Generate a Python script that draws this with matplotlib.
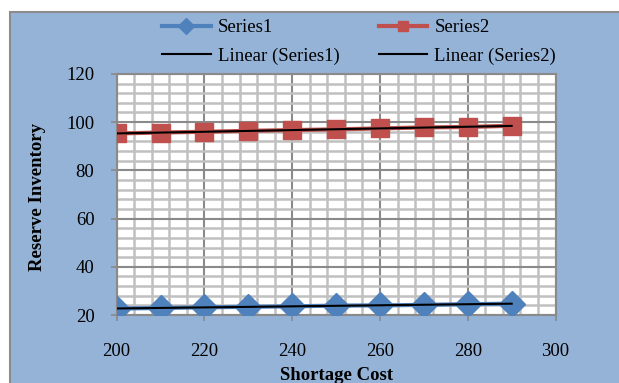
import matplotlib
matplotlib.use("Agg")
import matplotlib.pyplot as plt
import numpy as np
from matplotlib.patches import Rectangle
from matplotlib.ticker import MultipleLocator

plt.rcParams['font.family'] = ['Liberation Serif', 'DejaVu Serif']

shortage_cost = [200, 210, 220, 230, 240, 250, 260, 270, 280, 290]
series1 = [22.7, 22.9, 23.2, 23.4, 23.6, 23.9, 24.0, 24.2, 24.5, 24.7]
series2 = [95.3, 95.7, 96.0, 96.4, 96.7, 97.0, 97.4, 97.8, 98.0, 98.5]

bg = '#95B3D7'
blue = '#4F81BD'
red = '#C0504D'

fig = plt.figure(figsize=(6.19, 3.83), dpi=100)
fig.patches.append(Rectangle((10 / 619, -0.1), 1.2, 0.1 + 1 - 12 / 383,
                             transform=fig.transFigure, facecolor=bg,
                             edgecolor='#8c8c8c', lw=1.5, zorder=-1))

ax = fig.add_axes([0.1885, 0.1775, 0.709, 0.6295])
ax.set_facecolor('white')

x = np.array(shortage_cost)
s1, = ax.plot(x, series1, color=blue, lw=3, marker='D', markersize=13,
              label='Series1', zorder=3)
s2, = ax.plot(x, series2, color=red, lw=3, marker='s', markersize=13,
              label='Series2', zorder=3)

# linear trend lines
p1 = np.polyfit(x, series1, 1)
p2 = np.polyfit(x, series2, 1)
l1, = ax.plot(x, np.polyval(p1, x), color='black', lw=1.5,
              label='Linear (Series1)', zorder=4)
l2, = ax.plot(x, np.polyval(p2, x), color='black', lw=1.5,
              label='Linear (Series2)', zorder=4)

ax.set_xlim(200, 300)
ax.set_ylim(20, 120)
ax.xaxis.set_major_locator(MultipleLocator(20))
ax.xaxis.set_minor_locator(MultipleLocator(4))
ax.yaxis.set_major_locator(MultipleLocator(20))
ax.yaxis.set_minor_locator(MultipleLocator(4))
ax.grid(which='minor', color='#c0c0c0', lw=1.8, zorder=0)
ax.grid(which='major', color='#8a8a8a', lw=1.5, zorder=0)
ax.set_axisbelow(True)
ax.tick_params(which='minor', length=0)
ax.tick_params(which='major', length=4, color='#8a8a8a', width=1.2,
               labelsize=13.5)
ax.tick_params(axis='y', pad=12)
ax.tick_params(axis='x', pad=16)
for sp in ax.spines.values():
    sp.set_color('#8a8a8a')
    sp.set_linewidth(1.5)

ax.set_xlabel('Shortage Cost', fontsize=13.5, fontweight='bold')
ax.set_ylabel('Reserve Inventory', fontsize=13.5, fontweight='bold')
ax.xaxis.set_label_coords(0.5, -0.216)
ax.yaxis.set_label_coords(-0.161, 0.49)

fig.legend([s1, l1, s2, l2],
           ['Series1', 'Linear (Series1)', 'Series2', 'Linear (Series2)'],
           ncol=2, frameon=False, loc='center', bbox_to_anchor=(0.58, 0.890),
           fontsize=13.5, handlelength=2.6, labelspacing=0.6, columnspacing=2.1,
           handletextpad=0.37, markerscale=0.6)

fig.savefig('out.png', dpi=100)
